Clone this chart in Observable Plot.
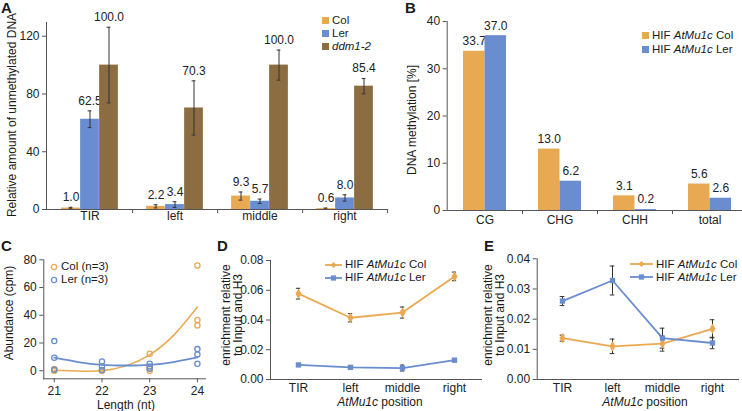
<!DOCTYPE html>
<html><head><meta charset="utf-8">
<script src="https://cdn.jsdelivr.net/npm/d3@7"></script>
<script src="https://cdn.jsdelivr.net/npm/@observablehq/plot@0.6"></script>
<style>
body{margin:0;background:#fff;}
#fig{position:relative;width:742px;height:411px;overflow:hidden;background:#fff;font-family:"Liberation Sans",Arial,sans-serif;color:#1a1a1a;}
#fig svg{position:absolute;}
.lbl{position:absolute;font-weight:bold;font-size:15px;line-height:15px;}
.t{position:absolute;font-size:12px;white-space:nowrap;transform:translate(-50%,-50%);line-height:12px;}
.rot{position:absolute;font-size:12px;white-space:nowrap;transform:translate(-50%,-50%) rotate(-90deg);text-align:center;line-height:12px;}
.leg{position:absolute;font-size:11.5px;white-space:nowrap;line-height:11px;display:flex;align-items:center;height:11px;}
</style></head><body><div id="fig"></div><script>
// ---------- data ----------
const catsA = ["TIR","left","middle","right"];
const seriesA = ["Col","Ler","ddm1-2"];
const colA = [1.0, 2.2, 9.3, 0.6];
const colAErr = [0.5, 1.1, 2.8, 0.4];
const lerA = [62.5, 3.4, 5.7, 8.0];
const lerAErr = [5.8, 2.0, 1.5, 2.2];
const ddmA = [100.0, 70.3, 100.0, 85.4];
const ddmAErr = [26.2, 18.8, 10.4, 5.3];
const ticksA = [0,40,80,120];

const catsB = ["CG","CHG","CHH","total"];
const seriesB = ["HIF AtMu1c Col","HIF AtMu1c Ler"];
const colB = [33.7,13.0,3.1,5.6];
const lerB = [37.0,6.2,0.2,2.6];
const ticksB = [0,10,20,30,40];

const lengthsC = [21,22,23,24];
const colC = [[1.2,0.3,0],[0.6,0.2,0],[12.3,2,0],[75.9,36.6,32.7]];
const lerC = [[21.4,9.4,0.7],[6.7,3.1,0.5],[5,3,1.4],[15.6,11.8,5]];
const fitX = [21,21.5,22,22.5,23,23.5,24];
const colFit = [0.4,-0.2,0,3.5,11.5,25.5,46];
const lerFit = [9.4,6.3,4.3,3.8,4.3,6.3,9.6];
const ticksC = [0,20,40,60,80];

const catsDE = ["TIR","left","middle","right"];
const colD = [0.0577,0.0415,0.0450,0.0693];
const colDErr = [0.0036,0.0028,0.0037,0.0029];
const lerD = [0.0098,0.0082,0.0077,0.0130];
const lerDErr = [0.0008,0.0008,0.0020,0.0010];
const ticksD = [0,0.02,0.04,0.06,0.08];
const colE = [0.0137,0.0110,0.0119,0.0168];
const colEErr = [0.0010,0.0024,0.0025,0.0030];
const lerE = [0.0260,0.0328,0.0137,0.0121];
const lerEErr = [0.0015,0.0048,0.0033,0.0019];
const ticksE = [0,0.01,0.02,0.03,0.04];

const ORANGE = "#E9A952", BLUE = "#6A8DCF", BROWN = "#8C6D42", INK = "#222", ERR = "#333";
const FONT = "Liberation Sans, Arial, sans-serif";
const style = {fontFamily: FONT, fontSize: "12px", background: "transparent", color: INK, overflow: "visible"};
const fig = document.getElementById("fig");
function place(el, left, top){ el.style.left = left + "px"; el.style.top = top + "px"; fig.appendChild(el); }
function html(cls, left, top, inner){ const d = document.createElement("div"); d.className = cls; d.style.left = left+"px"; d.style.top = top+"px"; d.innerHTML = inner; fig.appendChild(d); }

// ---------- Panel A ----------
{
  const W = 392, H = 230, mL = 46, mR = 5, mT = 22, mB = 21;
  const bw = (W - mL - mR) / catsA.length, barW = 19, ins = (bw - barW) / 2;
  const vals = [colA, lerA, ddmA], errs = [colAErr, lerAErr, ddmAErr], cols = [ORANGE, BLUE, BROWN];
  const marks = [];
  seriesA.forEach((s, i) => {
    const rows = catsA.map((c, j) => ({cat: c, v: vals[i][j], e: errs[i][j]}));
    const dx = (i - 1) * barW;
    marks.push(Plot.barY(rows, {x: "cat", y: "v", fill: cols[i], insetLeft: ins, insetRight: ins, dx}));
    marks.push(Plot.ruleX(rows, {x: "cat", y1: d => d.v - d.e, y2: d => d.v + d.e, dx, stroke: ERR, strokeWidth: 1}));
    marks.push(Plot.tickY(rows, {x: "cat", y: d => d.v + d.e, dx, insetLeft: bw/2 - 2, insetRight: bw/2 - 2, stroke: ERR}));
    marks.push(Plot.tickY(rows, {x: "cat", y: d => d.v - d.e, dx, insetLeft: bw/2 - 2, insetRight: bw/2 - 2, stroke: ERR}));
    marks.push(Plot.text(rows, {x: "cat", y: d => d.v + d.e, text: d => d.v.toFixed(1), dy: -10, dx, fontSize: 12, fill: INK}));
  });
  const svg = Plot.plot({
    width: W, height: H, marginLeft: mL, marginRight: mR, marginTop: mT, marginBottom: mB, style,
    x: {type: "band", domain: catsA, padding: 0},
    y: {domain: [0, 129.5]},
    marks: [
      ...marks,
      Plot.frame({anchor: "left", stroke: "#555"}),
      Plot.frame({anchor: "bottom", stroke: "#555"}),
      Plot.axisY({ticks: ticksA, tickSize: 4, tickPadding: 3, label: null, fontSize: 12, stroke: "#555"}),
      Plot.axisX({tickSize: 0, tickPadding: 2, label: null, fontSize: 12}),
      Plot.axisX({tickSize: 4, text: null, label: null, dx: bw/2, stroke: "#555"})
    ]
  });
  place(svg, 0, 0);
}

// ---------- Panel B ----------
{
  const W = 380, H = 225, mL = 76.7, mR = 3.3, mT = 21, mB = 15;
  const bw = (W - mL - mR) / catsB.length, barW = 21.5, ins = (bw - barW) / 2;
  const vals = [colB, lerB], cols = [ORANGE, BLUE];
  const marks = [];
  seriesB.forEach((s, i) => {
    const rows = catsB.map((c, j) => ({cat: c, v: vals[i][j]}));
    const dx = (i - 0.5) * barW;
    marks.push(Plot.barY(rows, {x: "cat", y: "v", fill: cols[i], insetLeft: ins, insetRight: ins, dx}));
    marks.push(Plot.text(rows, {x: "cat", y: "v", text: d => d.v.toFixed(1), dy: -10, dx, fontSize: 12, fill: INK}));
  });
  const svg = Plot.plot({
    width: W, height: H, marginLeft: mL, marginRight: mR, marginTop: mT, marginBottom: mB, style,
    x: {type: "band", domain: catsB, padding: 0},
    y: {domain: [0, 40]},
    marks: [
      ...marks,
      Plot.frame({anchor: "left", stroke: "#555"}),
      Plot.frame({anchor: "bottom", stroke: "#555"}),
      Plot.axisY({ticks: ticksB, tickSize: 4, tickPadding: 3, label: null, fontSize: 12, stroke: "#555"}),
      Plot.axisX({tickSize: 0, tickPadding: 5, label: null, fontSize: 12}),
      Plot.axisX({tickSize: 4, text: null, label: null, dx: bw/2, stroke: "#555"})
    ]
  });
  place(svg, 370, 0);
}

// ---------- Panel C ----------
{
  const W = 215, H = 171;
  const pts = (reps, s) => lengthsC.flatMap((L, j) => reps[j].map(v => ({x: L, y: v, s})));
  const fit = (ys) => fitX.map((x, j) => ({x, y: ys[j]}));
  const svg = Plot.plot({
    width: W, height: H, marginLeft: 43.3, marginRight: 10, marginTop: 19.3, marginBottom: 32.7, style,
    x: {domain: [20.78, 24.17]},
    y: {domain: [-5.8, 80]},
    marks: [
      Plot.line(fit(colFit), {x: "x", y: "y", stroke: ORANGE, strokeWidth: 1.5, curve: "natural"}),
      Plot.line(fit(lerFit), {x: "x", y: "y", stroke: BLUE, strokeWidth: 1.8, curve: "natural"}),
      Plot.dot(pts(colC, "Col"), {x: "x", y: "y", r: 2.6, stroke: ORANGE, fill: "none", strokeWidth: 1.3}),
      Plot.dot(pts(lerC, "Ler"), {x: "x", y: "y", r: 2.6, stroke: BLUE, fill: "none", strokeWidth: 1.3}),
      Plot.frame({anchor: "left", stroke: "#555"}),
      Plot.frame({anchor: "bottom", stroke: "#555"}),
      Plot.axisY({ticks: ticksC, tickSize: 4, tickPadding: 3, label: null, fontSize: 12, stroke: "#555"}),
      Plot.axisX({ticks: lengthsC, tickSize: 4, tickPadding: 4, label: null, fontSize: 12, tickFormat: d3.format("d"), stroke: "#555"})
    ]
  });
  place(svg, 0, 240);
}

// ---------- Panels D & E ----------
function linePanel(colV, colErr, lerV, lerErr, ticks, yMax, W, mL, mT, left) {
  const H = 171;
  const bw = (W - mL - 4) / catsDE.length;
  const rows = (v, e) => catsDE.map((c, j) => ({cat: c, v: v[j], e: e[j]}));
  const rc = rows(colV, colErr), rl = rows(lerV, lerErr);
  const errMarks = (r) => [
    Plot.ruleX(r, {x: "cat", y1: d => d.v - d.e, y2: d => d.v + d.e, stroke: ERR, strokeWidth: 1}),
    Plot.tickY(r, {x: "cat", y: d => d.v + d.e, insetLeft: bw/2 - 2.5, insetRight: bw/2 - 2.5, stroke: ERR}),
    Plot.tickY(r, {x: "cat", y: d => d.v - d.e, insetLeft: bw/2 - 2.5, insetRight: bw/2 - 2.5, stroke: ERR})
  ];
  const svg = Plot.plot({
    width: W, height: H, marginLeft: mL, marginRight: 4, marginTop: mT, marginBottom: 32, style,
    x: {type: "band", domain: catsDE, padding: 0},
    y: {domain: [0, yMax]},
    marks: [
      Plot.line(rc, {x: "cat", y: "v", stroke: ORANGE, strokeWidth: 1.8}),
      Plot.line(rl, {x: "cat", y: "v", stroke: BLUE, strokeWidth: 1.8}),
      ...errMarks(rc), ...errMarks(rl),
      Plot.dot(rc, {x: "cat", y: "v", symbol: "diamond", r: 3.2, fill: ORANGE}),
      Plot.dot(rl, {x: "cat", y: "v", symbol: "square", r: 3, fill: BLUE}),
      Plot.frame({anchor: "left", stroke: "#555"}),
      Plot.frame({anchor: "bottom", stroke: "#555"}),
      Plot.axisY({ticks, tickSize: 4, tickPadding: 3, label: null, fontSize: 12, tickFormat: d3.format(".2f"), stroke: "#555"}),
      Plot.axisX({tickSize: 0, tickPadding: 4, label: null, fontSize: 12})
    ]
  });
  place(svg, left, 240);
}
linePanel(colD, colDErr, lerD, lerDErr, ticksD, 0.08, 270, 55, 20, 215);
linePanel(colE, colEErr, lerE, lerEErr, ticksE, 0.04, 257, 51.7, 18.3, 485);

// ---------- labels, titles, legends ----------
html("lbl", 1, 0, "A");
html("lbl", 405, 0, "B");
html("lbl", 1, 238, "C");
html("lbl", 217, 238, "D");
html("lbl", 484, 238, "E");

html("rot", 12, 115, "Relative amount of unmethylated DNA");
html("rot", 412, 120, "DNA methylation [%]");
html("rot", 9, 313, "Abundance (cpm)");
html("t", 126, 405, "Length (nt)");
html("rot", 232, 315, "enrichment relative<br>to Input and H3");
html("t", 380, 401.7, "<i>AtMu1c</i> position");
html("rot", 494, 315, "enrichment relative<br>to Input and H3");
html("t", 645, 401.7, "<i>AtMu1c</i> position");

const sq = c => `<span style="display:inline-block;width:7px;height:7px;background:${c};margin-right:3px"></span>`;
const circ = c => `<svg width="8" height="8" style="position:static;margin-right:3px"><circle cx="4" cy="4" r="2.6" fill="none" stroke="${c}" stroke-width="1.3"/></svg>`;
const lineMk = (c, sym, w) => `<svg width="${w}" height="8" style="position:static;margin-right:3px"><line x1="0" x2="${w}" y1="4" y2="4" stroke="${c}" stroke-width="1.8"/>${sym === "d" ? `<path d="M${w/2} 1 L${w/2+3} 4 L${w/2} 7 L${w/2-3} 4Z" fill="${c}"/>` : `<rect x="${w/2-2.6}" y="1.4" width="5.2" height="5.2" fill="${c}"/>`}</svg>`;
function leg(x, yc, marker, label){ html("leg", x, yc - 5.5, marker + `<span>${label}</span>`); }
leg(322, 20.5, sq(ORANGE), "Col");
leg(322, 33.5, sq(BLUE), "Ler");
leg(322, 46.5, sq(BROWN), "<i>ddm1-2</i>");
leg(642, 35.5, sq(ORANGE), "HIF <i>AtMu1c</i> Col");
leg(642, 49.3, sq(BLUE), "HIF <i>AtMu1c</i> Ler");
leg(50, 266.5, circ(ORANGE), "Col (n=3)");
leg(50, 279.5, circ(BLUE), "Ler (n=3)");
leg(325, 264.5, lineMk(ORANGE, "d", 17), "HIF <i>AtMu1c</i> Col");
leg(325, 277.5, lineMk(BLUE, "s", 17), "HIF <i>AtMu1c</i> Ler");
leg(630, 264, lineMk(ORANGE, "d", 23), "HIF <i>AtMu1c</i> Col");
leg(630, 277, lineMk(BLUE, "s", 23), "HIF <i>AtMu1c</i> Ler");
</script></body></html>
